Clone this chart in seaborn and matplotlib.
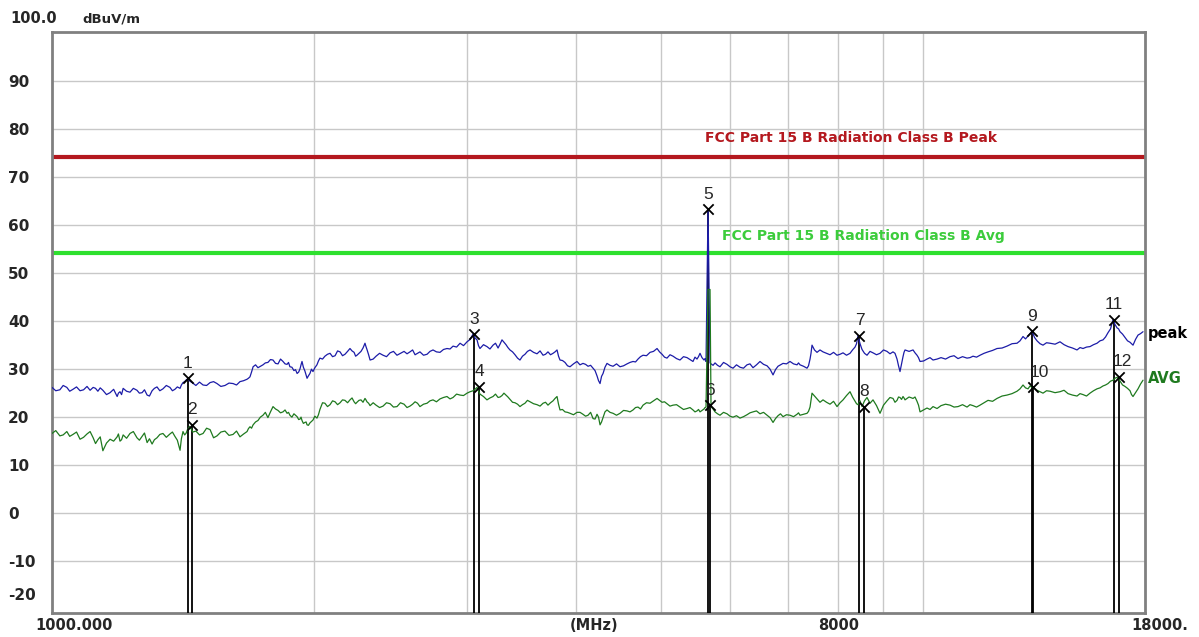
import pandas as pd
import matplotlib
matplotlib.use("Agg")
import matplotlib.pyplot as plt
import seaborn as sns

# sweep frequencies (MHz) and levels (dBuV/m)
freq_mhz = [1000, 1010, 1021, 1030, 1040, 1048, 1057, 1067, 1077, 1087,
            1097, 1106, 1115, 1122, 1129, 1136, 1144, 1155, 1166, 1177,
            1188, 1192, 1197, 1202, 1207, 1218, 1229, 1240, 1252, 1260,
            1269, 1277, 1286, 1294, 1303, 1311, 1320, 1330, 1341, 1353,
            1366, 1375, 1384, 1393, 1403, 1408, 1414, 1420, 1425, 1432,
            1440, 1451, 1463, 1477, 1491, 1505, 1519, 1533, 1547, 1563,
            1580, 1597, 1614, 1629, 1644, 1660, 1675, 1681, 1688, 1695,
            1702, 1713, 1724, 1735, 1747, 1758, 1770, 1782, 1794, 1806,
            1818, 1830, 1842, 1852, 1862, 1869, 1876, 1886, 1896, 1904,
            1912, 1920, 1927, 1932, 1937, 1944, 1952, 1958, 1963, 1970,
            1978, 1986, 1994, 2004, 2015, 2023, 2031, 2045, 2058, 2072,
            2086, 2100, 2114, 2128, 2142, 2156, 2170, 2185, 2199, 2211,
            2223, 2232, 2240, 2252, 2264, 2276, 2288, 2294, 2300, 2310,
            2319, 2338, 2356, 2378, 2400, 2422, 2445, 2467, 2490, 2513,
            2537, 2557, 2577, 2595, 2612, 2629, 2646, 2671, 2696, 2717,
            2739, 2764, 2790, 2816, 2842, 2865, 2888, 2915, 2942, 2969,
            2997, 3021, 3045, 3061, 3077, 3089, 3101, 3130, 3159, 3184,
            3210, 3231, 3253, 3270, 3287, 3304, 3322, 3339, 3357, 3380,
            3402, 3425, 3447, 3470, 3493, 3516, 3540, 3573, 3606, 3635,
            3664, 3688, 3712, 3737, 3762, 3782, 3802, 3817, 3832, 3857,
            3883, 3909, 3935, 3971, 4008, 4040, 4072, 4100, 4127, 4155,
            4182, 4204, 4226, 4243, 4260, 4277, 4294, 4316, 4339, 4374,
            4409, 4450, 4491, 4533, 4575, 4611, 4648, 4679, 4710, 4741,
            4773, 4817, 4862, 4907, 4953, 4986, 5019, 5052, 5085, 5126,
            5167, 5215, 5263, 5312, 5362, 5404, 5447, 5476, 5505, 5527,
            5549, 5578, 5608, 5623, 5638, 5668, 5698, 5713, 5744, 5774,
            5812, 5850, 5905, 5960, 6007, 6055, 6111, 6168, 6225, 6283,
            6333, 6384, 6443, 6503, 6564, 6625, 6678, 6731, 6775, 6820,
            6865, 6911, 6975, 7040, 7106, 7172, 7200, 7229, 7296, 7364,
            7393, 7423, 7442, 7462, 7511, 7561, 7621, 7682, 7754, 7826,
            7899, 7972, 8036, 8100, 8175, 8251, 8306, 8361, 8394, 8427,
            8472, 8517, 8573, 8630, 8699, 8768, 8850, 8932, 9015, 9099,
            9171, 9244, 9293, 9343, 9380, 9417, 9455, 9492, 9517, 9543,
            9645, 9747, 9798, 9850, 9889, 9929, 10021, 10114, 10195, 10276,
            10386, 10496, 10622, 10749, 10863, 10978, 11110, 11243, 11332, 11422,
            11529, 11636, 11760, 11885, 12028, 12171, 12334, 12497, 12664, 12832,
            12934, 13037, 13124, 13211, 13281, 13351, 13440, 13529, 13637, 13745,
            13873, 14002, 14190, 14377, 14531, 14685, 14861, 15038, 15158, 15279,
            15421, 15564, 15709, 15855, 15982, 16109, 16216, 16323, 16432, 16541,
            16629, 16717, 16783, 16850, 16962, 17074, 17187, 17301, 17370, 17439,
            17555, 17671, 17789, 17906]

peak_level = [26.1, 25.4, 25.6, 26.5, 26.1, 25.3, 25.7, 26.2, 25.4, 25.6,
              26.3, 25.5, 26.1, 25.9, 25.3, 26.0, 25.5, 24.6, 25.0, 25.7,
              24.2, 24.9, 25.2, 24.6, 25.9, 25.3, 25.1, 25.9, 25.5, 24.9,
              25.0, 25.6, 24.5, 24.3, 25.4, 25.9, 26.2, 25.4, 25.8, 26.5,
              26.1, 25.4, 25.7, 26.2, 25.9, 26.6, 27.1, 27.3, 27.6, 27.9,
              27.4, 27.0, 26.5, 27.2, 26.6, 26.5, 27.1, 27.3, 26.9, 26.3,
              26.5, 27.0, 26.9, 26.6, 27.3, 27.5, 27.8, 28.0, 28.3, 29.3,
              30.4, 30.8, 30.2, 30.5, 30.8, 31.2, 31.3, 31.9, 31.8, 31.1,
              31.0, 32.0, 31.5, 31.0, 30.9, 31.3, 30.4, 30.3, 29.6, 29.8,
              29.0, 29.3, 30.0, 30.8, 31.5, 30.3, 29.5, 28.7, 28.0, 28.5,
              29.0, 29.9, 29.4, 30.2, 30.8, 31.6, 32.2, 32.0, 32.6, 33.0,
              33.2, 32.5, 32.7, 33.7, 33.5, 32.7, 33.0, 33.6, 34.2, 33.7,
              33.4, 32.6, 32.8, 33.2, 33.6, 34.3, 35.3, 34.6, 34.0, 32.9,
              31.8, 32.0, 32.6, 33.2, 32.8, 32.5, 33.3, 33.6, 32.8, 33.2,
              33.6, 33.1, 33.5, 33.9, 32.9, 33.2, 33.5, 32.8, 33.0, 33.6,
              33.9, 33.5, 33.4, 34.0, 34.2, 34.1, 34.7, 34.5, 35.3, 34.8,
              35.6, 36.1, 37.2, 36.4, 36.0, 34.8, 34.2, 35.0, 34.6, 34.1,
              34.9, 35.3, 34.3, 35.1, 36.0, 35.5, 35.0, 34.4, 33.9, 33.5,
              32.9, 32.2, 31.8, 32.6, 33.0, 33.6, 33.9, 33.4, 33.1, 33.7,
              32.8, 33.0, 33.5, 32.9, 33.2, 33.5, 33.9, 32.6, 31.8, 31.7,
              31.3, 30.6, 30.4, 31.0, 31.5, 30.8, 31.1, 30.9, 30.5, 30.7,
              30.1, 29.6, 28.5, 27.5, 26.9, 28.4, 29.0, 30.3, 31.1, 30.7,
              30.5, 31.0, 30.4, 30.6, 31.0, 31.3, 31.5, 31.4, 32.0, 32.5,
              32.8, 32.7, 33.4, 33.6, 34.2, 33.5, 33.0, 32.4, 32.2, 32.9,
              32.6, 32.1, 31.8, 32.5, 32.3, 31.9, 31.5, 32.4, 32.0, 32.5,
              33.2, 32.3, 31.8, 32.1, 31.5, 63.2, 31.2, 31.0, 30.7, 31.2,
              30.7, 30.4, 31.3, 30.9, 30.4, 30.1, 30.8, 30.3, 30.1, 30.8,
              31.0, 30.2, 30.8, 31.5, 30.9, 30.6, 29.9, 28.7, 29.8, 30.5,
              30.8, 31.1, 31.0, 31.5, 31.0, 30.8, 31.2, 30.8, 30.5, 30.1,
              30.6, 32.0, 33.2, 34.9, 33.9, 33.4, 33.9, 33.5, 33.2, 32.9,
              33.4, 32.8, 33.0, 33.3, 32.8, 33.2, 33.9, 34.5, 35.2, 36.9,
              35.2, 34.0, 33.2, 32.8, 33.6, 33.3, 32.9, 33.2, 33.9, 33.6,
              33.1, 33.5, 33.2, 32.0, 30.6, 29.4, 31.0, 32.5, 33.4, 33.9,
              33.6, 33.9, 33.3, 32.8, 32.3, 31.5, 31.6, 32.0, 32.3, 31.8,
              32.0, 32.3, 32.0, 32.5, 32.7, 32.1, 32.5, 32.2, 32.3, 32.6,
              32.4, 32.8, 33.2, 33.5, 33.8, 34.2, 34.3, 34.7, 35.2, 35.3,
              35.8, 36.7, 36.2, 36.8, 37.3, 37.8, 36.5, 35.8, 35.2, 34.9,
              35.4, 35.3, 35.1, 35.6, 35.0, 34.6, 34.3, 33.9, 34.4, 34.2,
              34.5, 34.6, 35.0, 35.3, 35.8, 36.0, 36.6, 37.5, 38.3, 40.2,
              39.2, 38.5, 38.3, 37.7, 37.2, 36.5, 35.8, 35.5, 35.2, 34.9,
              36.1, 37.0, 37.3, 37.7]

avg_level = [16.5, 17.1, 16.0, 16.2, 16.9, 15.9, 16.3, 16.8, 15.3, 15.7,
             16.4, 16.9, 15.6, 14.4, 15.2, 15.8, 12.9, 14.5, 15.3, 14.9,
             15.8, 16.4, 14.9, 15.2, 16.2, 15.5, 16.5, 16.9, 15.6, 15.1,
             15.9, 16.6, 14.6, 15.4, 14.3, 15.2, 15.6, 16.3, 16.5, 15.7,
             16.4, 16.8, 15.9, 15.1, 13.0, 15.4, 16.9, 16.2, 16.5, 17.4,
             18.0, 16.8, 17.0, 16.2, 16.5, 17.6, 17.3, 15.6, 16.0, 16.8,
             17.0, 16.1, 16.3, 17.0, 15.8, 16.4, 16.9, 17.5, 17.9, 17.6,
             18.3, 18.9, 19.2, 19.9, 20.3, 20.9, 19.8, 21.0, 22.1, 21.6,
             21.3, 20.8, 21.0, 21.4, 20.7, 20.9, 20.3, 19.9, 20.6, 20.3,
             20.0, 19.4, 19.5, 19.9, 19.2, 18.6, 18.8, 18.9, 18.3, 18.2,
             18.7, 19.0, 19.3, 20.1, 19.7, 20.4, 21.5, 22.9, 22.8, 22.1,
             22.5, 23.3, 23.1, 22.5, 22.9, 23.5, 23.4, 22.9, 23.5, 23.9,
             23.1, 22.7, 23.0, 23.4, 23.5, 23.0, 23.8, 23.5, 23.1, 22.8,
             22.3, 22.9, 22.4, 21.9, 22.2, 22.9, 22.7, 22.0, 22.1, 22.9,
             22.6, 21.9, 22.2, 22.6, 23.1, 22.8, 22.1, 22.6, 22.8, 23.3,
             23.5, 23.1, 23.7, 24.0, 24.2, 23.7, 24.0, 24.7, 24.5, 24.4,
             24.9, 25.2, 25.4, 25.7, 26.1, 25.4, 24.7, 24.2, 23.5, 23.9,
             24.2, 24.7, 24.0, 24.1, 24.4, 24.9, 24.5, 24.1, 23.6, 23.0,
             22.9, 22.6, 22.1, 22.5, 22.8, 23.4, 23.1, 22.7, 22.5, 22.2,
             22.8, 23.0, 22.4, 22.9, 23.3, 23.8, 24.2, 22.6, 21.4, 21.5,
             21.0, 20.9, 20.7, 20.4, 20.9, 20.9, 20.5, 20.1, 20.3, 20.9,
             19.6, 19.5, 20.5, 19.9, 18.3, 18.9, 19.8, 21.0, 21.4, 20.9,
             20.7, 20.3, 20.7, 21.3, 21.2, 21.0, 21.4, 21.9, 22.0, 21.6,
             22.4, 22.9, 22.8, 23.3, 23.8, 23.4, 23.0, 23.1, 22.7, 22.2,
             22.4, 22.5, 22.0, 21.5, 21.7, 21.9, 21.4, 21.0, 21.2, 21.5,
             21.0, 21.3, 21.6, 21.9, 22.0, 46.5, 46.5, 22.1, 21.6, 21.0,
             20.6, 20.3, 20.9, 20.6, 20.1, 19.9, 20.2, 19.7, 20.0, 20.4,
             20.8, 21.0, 21.2, 20.6, 20.9, 20.3, 19.8, 18.8, 19.6, 20.2,
             20.6, 20.0, 20.4, 20.3, 20.0, 20.5, 20.8, 20.3, 20.5, 20.7,
             21.1, 22.0, 23.4, 24.9, 24.3, 23.7, 23.0, 23.5, 23.0, 22.6,
             23.2, 22.1, 22.9, 23.5, 24.4, 25.2, 24.1, 23.2, 22.7, 22.5,
             23.3, 22.1, 23.3, 24.0, 22.8, 23.5, 22.3, 20.7, 22.4, 23.3,
             24.0, 23.8, 23.0, 23.4, 24.1, 24.0, 23.6, 24.2, 23.9, 23.5,
             24.1, 23.8, 24.1, 23.2, 22.4, 21.0, 21.4, 21.8, 21.5, 22.1,
             21.7, 22.3, 22.6, 22.4, 22.0, 22.1, 22.5, 22.0, 22.5, 22.3,
             22.0, 22.4, 22.9, 23.4, 23.2, 23.8, 24.3, 24.5, 24.8, 25.3,
             25.8, 26.6, 26.0, 25.8, 26.4, 26.1, 25.9, 25.5, 25.2, 24.9,
             25.4, 25.3, 25.0, 25.2, 25.5, 24.8, 24.5, 24.3, 24.8, 24.6,
             24.3, 24.9, 25.4, 25.8, 26.0, 26.4, 26.6, 26.9, 27.4, 27.6,
             28.0, 28.2, 27.9, 27.4, 26.6, 26.3, 25.9, 25.4, 24.6, 24.2,
             25.0, 25.8, 26.8, 27.6]

marker_no = [1, 2, 3, 4, 5, 6, 7, 8, 9, 10, 11, 12]
marker_freq = [1432, 1447, 3053, 3093, 5668, 5698, 8460, 8562, 13351, 13400, 16585, 16805]
marker_level = [28.0, 18.3, 37.2, 26.2, 63.2, 22.4, 36.9, 22.1, 37.8, 26.1, 40.2, 28.3]

limit_peak = 74.0
limit_avg = 54.0
grid_freqs = [2000, 3000, 4000, 5000, 6000, 7000, 8000, 9000, 10000]
ytick_vals = [90, 80, 70, 60, 50, 40, 30, 20, 10, 0, -10]

peak_col = "#1c1ca8"
avg_col = "#1f7a1f"
red_col = "#b4181e"
lime_col = "#2ee02e"
grid_col = "#c8c8c8"

sns.set_style("white")
plt.rcParams["font.family"] = ["DejaVu Sans"]

fig = plt.figure(figsize=(11.99, 6.37), dpi=100)
ax = fig.add_axes([52 / 1199, 1 - 613 / 637, 1093 / 1199, 581.3 / 637])
ax.set_xscale("log")

df = pd.DataFrame({"freq": freq_mhz, "peak": peak_level, "avg": avg_level})

ax.axhline(limit_peak, color=red_col, lw=3, zorder=2)
ax.axhline(limit_avg, color=lime_col, lw=3, zorder=2)
ax.vlines(marker_freq, -25, marker_level, colors="black", lw=1.3, zorder=3)

sns.lineplot(data=df, x="freq", y="peak", color=peak_col, lw=0.9,
             estimator=None, ax=ax, zorder=4)
sns.lineplot(data=df, x="freq", y="avg", color=avg_col, lw=0.9,
             estimator=None, ax=ax, zorder=5)
sns.scatterplot(x=marker_freq, y=marker_level, marker="x", color="black",
                s=55, linewidth=1.3, ax=ax, zorder=6)

for n, f, lv in zip(marker_no, marker_freq, marker_level):
    dx = 6 if n == 10 else (3 if n == 12 else 0)
    ax.annotate(str(n), (f, lv), xytext=(dx, 15), textcoords="offset pixels",
                ha="center", va="center", fontsize=12.5, family="Liberation Sans",
                zorder=7)

ax.set_xlim(1000, 18000)
ax.set_ylim(-20.9, 100.2)
ax.set_xlabel("")
ax.set_ylabel("")

ax.set_xticks([])
ax.set_xticks(grid_freqs, minor=True)
ax.tick_params(axis="x", which="both", labelbottom=False, length=0)
ax.set_yticks(ytick_vals)
ax.set_yticklabels([str(v) for v in ytick_vals], fontweight="bold", fontsize=11)
ax.tick_params(axis="y", length=0, pad=31.7)
for lab in ax.get_yticklabels():
    lab.set_ha("left")
ax.xaxis.grid(True, which="minor", color=grid_col, lw=1)
ax.yaxis.grid(True, color=grid_col, lw=1)
ax.set_axisbelow(True)
for sp in ax.spines.values():
    sp.set_color("#808080")
    sp.set_linewidth(2)

bold = dict(fontweight="bold", fontsize=10.5)
ax.annotate("-20", (0, -17.3), xycoords=("axes fraction", "data"), xytext=(-44, 0),
            textcoords="offset pixels", ha="left", va="center", fontweight="bold", fontsize=11)
ax.annotate("100.0", (0, 1), xycoords="axes fraction", xytext=(-42, 13),
            textcoords="offset pixels", ha="left", va="center", **bold)
ax.annotate("dBuV/m", (0, 1), xycoords="axes fraction", xytext=(30, 13),
            textcoords="offset pixels", ha="left", va="center", fontweight="bold", fontsize=9.5)

ax.annotate("1000.000", (0, 0), xycoords="axes fraction", xytext=(-17, -12),
            textcoords="offset pixels", ha="left", va="center", **bold)
ax.annotate("(MHz)", (4194, 0), xycoords=("data", "axes fraction"), xytext=(0, -12),
            textcoords="offset pixels", ha="center", va="center", **bold)
ax.annotate("8000", (8000, 0), xycoords=("data", "axes fraction"), xytext=(0, -12),
            textcoords="offset pixels", ha="center", va="center", **bold)
ax.annotate("18000.", (1, 0), xycoords="axes fraction", xytext=(15, -12),
            textcoords="offset pixels", ha="center", va="center", **bold)

ax.text(5620, 78.1, "FCC Part 15 B Radiation Class B Peak", color=red_col,
        fontsize=10, fontweight="bold", ha="left", va="center")
ax.text(5883, 57.6, "FCC Part 15 B Radiation Class B Avg", color="#3ccc3c",
        fontsize=10, fontweight="bold", ha="left", va="center")

ax.annotate("peak", (1, 37.4), xycoords=("axes fraction", "data"), xytext=(3, 0),
            textcoords="offset pixels", ha="left", va="center", color="black", **bold)
ax.annotate("AVG", (1, 28.0), xycoords=("axes fraction", "data"), xytext=(3, 0),
            textcoords="offset pixels", ha="left", va="center", color=avg_col, **bold)

fig.savefig("out.png", dpi=100)
